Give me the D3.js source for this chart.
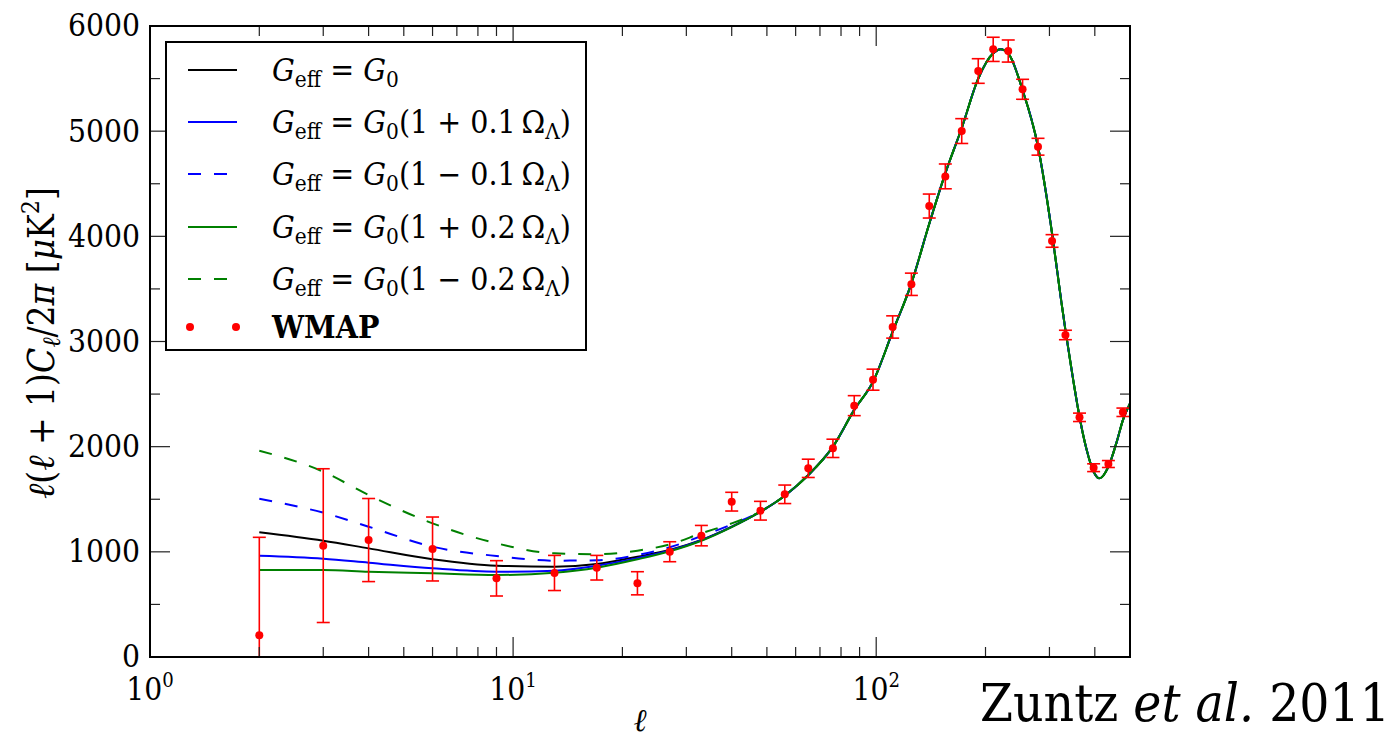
<!DOCTYPE html>
<html>
<head>
<meta charset="utf-8">
<script src="https://cdn.jsdelivr.net/npm/d3@7"></script>
<style>
  html, body { margin: 0; padding: 0; background: #fff; }
</style>
</head>
<body>
<svg id="chart" width="1397" height="738"></svg>
<script>
// ---------------- data ----------------
const theoryEll = [2,3,4,6,9,13,17,22,27,33,40,48,56,65,76,87,98,111,125,140,155,172,191,210,220,231,253,279,305,323,332,350,363,380,397,412,436,460,478,500];

const gEqG0 = [1186,1106,1033,929,868,859,884,954,1017,1112,1239,1382,1534,1730,2000,2350,2618,3093,3553,4120,4599,5030,5500,5740,5780,5740,5391,4852,4029,3395,3109,2602,2285,1968,1762,1699,1810,2050,2253,2412];
const gPlus01 = [963,935,897,843,811,821,868,940,1012,1110,1237,1382,1534,1730,2000,2350,2618,3093,3553,4120,4599,5030,5500,5740,5780,5740,5391,4852,4029,3395,3109,2602,2285,1968,1762,1699,1810,2050,2253,2412];
const gMinus01 = [1505,1372,1239,1049,960,916,920,970,1043,1150,1260,1382,1534,1730,2000,2350,2618,3093,3553,4120,4599,5030,5500,5740,5780,5740,5391,4852,4029,3395,3109,2602,2285,1968,1762,1699,1810,2050,2253,2412];
const gPlus02 = [827,827,811,796,780,802,849,929,1005,1105,1235,1382,1534,1730,2000,2350,2618,3093,3553,4120,4599,5030,5500,5740,5780,5740,5391,4852,4029,3395,3109,2602,2285,1968,1762,1699,1810,2050,2253,2412];
const gMinus02 = [1962,1762,1540,1271,1081,986,977,1011,1071,1176,1271,1382,1534,1730,2000,2350,2618,3093,3553,4120,4599,5030,5500,5740,5780,5740,5391,4852,4029,3395,3109,2602,2285,1968,1762,1699,1810,2050,2253,2412];

const wmapEll = [2,3,4,6,9,13,17,22,27,33,40,48,56,65,76,87,98,111,125,140,155,172,191,210,231,253,279,305,332,363,397,436,478];
const wmapVal = [206,1059,1112,1027,748,799,849,701,1001,1154,1477,1391,1547,1794,1984,2390,2637,3138,3544,4288,4570,5001,5572,5778,5762,5398,4852,3956,3062,2279,1800,1835,2327];
const wmapErr = [932,731,395,304,168,167,117,110,95,97,89,89,88,87,87,95,100,106,106,114,118,118,117,115,105,95,80,60,45,40,37,33,40];

const yTicks = [0,1000,2000,3000,4000,5000,6000];
const yMinorTicks = [500,1500,2500,3500,4500,5500];
const xMajorTicks = [1,10,100];
const xMajorExp = ["0","1","2"];
const xMinorTicks = [2,3,4,5,6,7,8,9,20,30,40,50,60,70,80,90,200,300,400];

const series = [
  {name: "G0",  values: gEqG0,    color: "#000000", dash: null,    coef: null},
  {name: "p01", values: gPlus01,  color: "#0000ff", dash: null,    coef: "(1 + 0.1\u2009"},
  {name: "m01", values: gMinus01, color: "#0000ff", dash: "13,13", coef: "(1 \u2212 0.1\u2009"},
  {name: "p02", values: gPlus02,  color: "#008000", dash: null,    coef: "(1 + 0.2\u2009"},
  {name: "m02", values: gMinus02, color: "#008000", dash: "13,13", coef: "(1 \u2212 0.2\u2009"}
];

// ---------------- pick an installed serif face ----------------
function pickSerif() {
  const ctx = document.createElement("canvas").getContext("2d");
  const sample = "Zuntz et al. 2011 WMAP 6000 Geff";
  const w = f => { ctx.font = "40px " + f; return ctx.measureText(sample).width; };
  const base = w("NoSuchFontXyz");
  const cands = ["'DejaVu Serif Condensed'", "'Liberation Serif'", "Tinos", "'Noto Serif'", "'DejaVu Serif'", "serif"];
  for (const c of cands) {
    if (Math.abs(w(c + ", NoSuchFontXyz") - base) > 0.5) return c + ", 'DejaVu Serif', serif";
  }
  return "'DejaVu Serif', serif";
}
const SERIF = pickSerif();
d3.select("#chart").style("font-family", SERIF);

// scale a text element about an anchor point so that its width becomes targetW
function fitWidth(sel, targetW, ax, ay, sFixed) {
  const w = sel.node().getBBox().width;
  const s = sFixed || targetW / w;
  sel.attr("transform", `translate(${ax},${ay}) scale(${s}) translate(${-ax},${-ay})`);
  return s;
}

// ---------------- layout ----------------
const L = 150, R = 1130, T = 26, B = 657;
const svg = d3.select("#chart");
const x = d3.scaleLog().domain([1, 500]).range([L, R]);
const y = d3.scaleLinear().domain([0, 6000]).range([B, T]);

svg.append("defs").append("clipPath").attr("id", "plotclip")
  .append("rect").attr("x", L).attr("y", T).attr("width", R - L).attr("height", B - T);

const plot = svg.append("g").attr("clip-path", "url(#plotclip)");

// theory curves
const line = d3.line().x(d => x(d[0])).y(d => y(d[1])).curve(d3.curveMonotoneX);
series.forEach(s => {
  plot.append("path")
    .datum(theoryEll.map((e, i) => [e, s.values[i]]))
    .attr("d", line)
    .attr("fill", "none")
    .attr("stroke", s.color)
    .attr("stroke-width", 2)
    .attr("stroke-dasharray", s.dash);
});

// WMAP points with error bars
const wmap = wmapEll.map((e, i) => ({e, v: wmapVal[i], err: wmapErr[i]}));
const eb = plot.append("g").attr("stroke", "#ff0000").attr("stroke-width", 1.6);
wmap.forEach(d => {
  const cx = x(d.e), y1 = y(d.v + d.err), y0 = y(d.v - d.err);
  eb.append("line").attr("x1", cx).attr("x2", cx).attr("y1", y1).attr("y2", y0);
  eb.append("line").attr("x1", cx - 6.5).attr("x2", cx + 6.5).attr("y1", y1).attr("y2", y1);
  eb.append("line").attr("x1", cx - 6.5).attr("x2", cx + 6.5).attr("y1", y0).attr("y2", y0);
});
plot.append("g").selectAll("circle").data(wmap).join("circle")
  .attr("cx", d => x(d.e)).attr("cy", d => y(d.v)).attr("r", 4).attr("fill", "#ff0000");

// ticks (inward on all sides)
const tk = svg.append("g").attr("stroke", "#222").attr("stroke-width", 1.2);
xMajorTicks.concat(xMinorTicks).forEach(v => {
  const len = xMajorTicks.includes(v) ? 20 : 10;
  const px = x(v);
  tk.append("line").attr("x1", px).attr("x2", px).attr("y1", B).attr("y2", B - len);
  tk.append("line").attr("x1", px).attr("x2", px).attr("y1", T).attr("y2", T + len);
});
yTicks.concat(yMinorTicks).forEach(v => {
  const len = yTicks.includes(v) ? 20 : 10;
  const py = y(v);
  tk.append("line").attr("x1", L).attr("x2", L + len).attr("y1", py).attr("y2", py);
  tk.append("line").attr("x1", R).attr("x2", R - len).attr("y1", py).attr("y2", py);
});

// frame
svg.append("rect").attr("x", L).attr("y", T).attr("width", R - L).attr("height", B - T)
  .attr("fill", "none").attr("stroke", "#000").attr("stroke-width", 2);

// tick labels: size chosen so that "6000" is ~72px wide
let tickSize = 36;
{
  const probe = svg.append("text").attr("font-size", 36).text("6000");
  tickSize = Math.min(36, 36 * 72 / probe.node().getBBox().width);
  probe.remove();
}
svg.append("g").selectAll("text").data(yTicks).join("text")
  .attr("x", 140).attr("y", d => y(d) + tickSize * 0.33)
  .attr("text-anchor", "end").attr("font-size", tickSize).attr("fill", "#000")
  .text(d => d);

const xl = svg.append("g").selectAll("text").data(xMajorTicks).join("text")
  .attr("x", d => x(d)).attr("y", 700)
  .attr("text-anchor", "middle").attr("font-size", tickSize).attr("fill", "#000");
xl.append("tspan").text("10");
xl.append("tspan").attr("dy", -13).attr("font-size", tickSize * 0.64).text((d, i) => xMajorExp[i]);

// axis labels
svg.append("text").attr("x", 640).attr("y", 731).attr("text-anchor", "middle")
  .attr("font-size", tickSize).attr("font-style", "italic").text("\u2113");

const yl = svg.append("text").attr("font-size", 34).attr("fill", "#000");
yl.append("tspan").attr("font-style", "italic").text("\u2113");
yl.append("tspan").text("(");
yl.append("tspan").attr("font-style", "italic").text("\u2113");
yl.append("tspan").text(" + 1)");
yl.append("tspan").attr("font-style", "italic").text("C");
yl.append("tspan").attr("font-style", "italic").attr("font-size", 23).attr("dy", 6).text("\u2113");
yl.append("tspan").attr("dy", -6).text("/2");
yl.append("tspan").attr("font-style", "italic").text("\u03c0 ");
yl.append("tspan").text("[");
yl.append("tspan").attr("font-style", "italic").text("\u03bc");
yl.append("tspan").text("K");
yl.append("tspan").attr("font-size", 23).attr("dy", -14).text("2");
yl.append("tspan").attr("dy", 14).text("]");
{
  // fit the rotated label to span y 187..499, centred at x 41
  const bb = yl.node().getBBox();
  const s = 312 / bb.width;
  const tx = 41 - s * (bb.y + bb.height / 2);
  const ty = 343 + s * (bb.x + bb.width / 2);
  yl.attr("transform", `translate(${tx},${ty}) rotate(-90) scale(${s})`);
}

// legend
const lg = svg.append("g");
lg.append("rect").attr("x", 166).attr("y", 42).attr("width", 420).attr("height", 308)
  .attr("fill", "#fff").attr("stroke", "#000").attr("stroke-width", 2);
const rowY = [70, 122, 174, 227, 279, 327];
const legendTexts = [];
series.forEach((s, i) => {
  const ry = rowY[i];
  lg.append("line").attr("x1", 188).attr("x2", 237).attr("y1", ry).attr("y2", ry)
    .attr("stroke", s.color).attr("stroke-width", 2).attr("stroke-dasharray", s.dash);
  const t = lg.append("text").attr("x", 272).attr("y", ry + 11)
    .attr("font-size", 34).attr("fill", "#000");
  t.append("tspan").attr("font-style", "italic").text("G");
  t.append("tspan").attr("font-size", 24).attr("dy", 6).text("eff");
  t.append("tspan").attr("dy", -6).text(" = ");
  t.append("tspan").attr("font-style", "italic").text("G");
  t.append("tspan").attr("font-size", 24).attr("dy", 6).text("0");
  if (s.coef) {
    t.append("tspan").attr("dy", -6).text(s.coef);
    t.append("tspan").text("\u03a9");
    t.append("tspan").attr("font-size", 24).attr("dy", 6).text("\u039b");
    t.append("tspan").attr("dy", -6).text(")");
  }
  legendTexts.push(t);
});
const wm = lg.append("text").attr("x", 272).attr("y", rowY[5] + 11).attr("font-size", 34)
  .attr("font-weight", "bold").text("WMAP");
{
  // widest legend entry should end near x = 571
  const maxW = d3.max(legendTexts, t => t.node().getBBox().width);
  const s = Math.min(1.1, 299 / maxW);
  legendTexts.forEach((t, i) => fitWidth(t, 0, 272, rowY[i] + 11, s));
  fitWidth(wm, 0, 272, rowY[5] + 11, s);
}
[190, 236].forEach(cx => lg.append("circle").attr("cx", cx).attr("cy", rowY[5]).attr("r", 4).attr("fill", "#ff0000"));

// citation
const cit = svg.append("text").attr("x", 980).attr("y", 721)
  .attr("font-size", 60).attr("fill", "#000");
cit.append("tspan").text("Zuntz ");
cit.append("tspan").attr("font-style", "italic").text("et al.");
cit.append("tspan").text(" 2011");
{
  const w = cit.node().getBBox().width;
  if (w > 410) fitWidth(cit, 410, 980, 721);
}
</script>
</body>
</html>
